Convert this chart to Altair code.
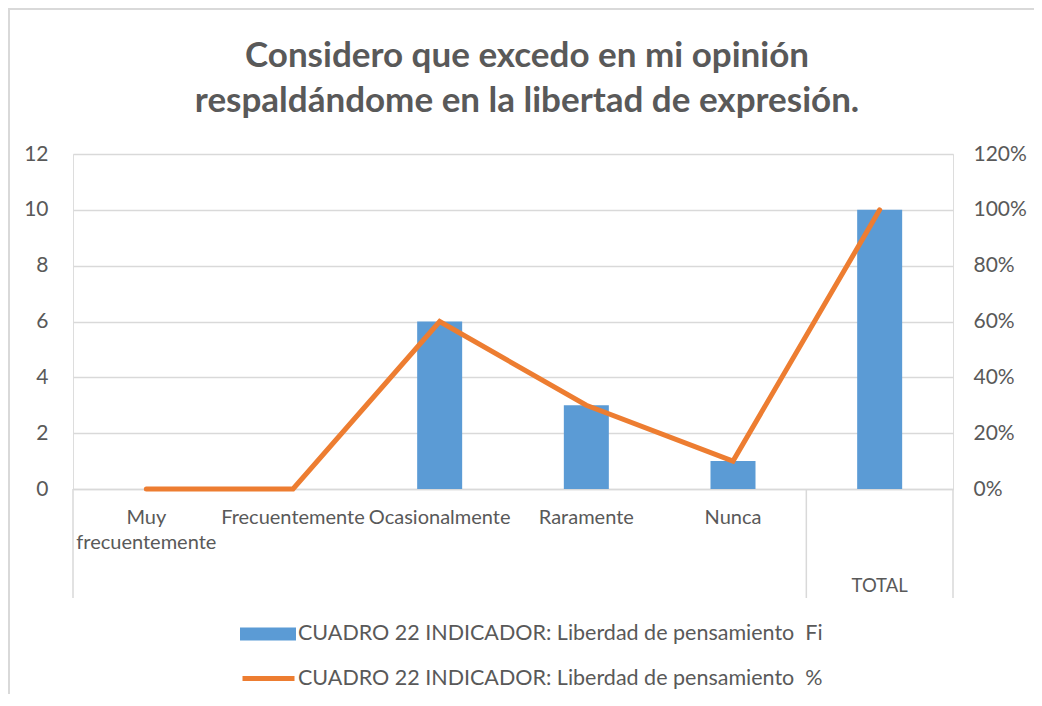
import altair as alt
import pandas as pd

# ---- data ----
categories = ["Muy frecuentemente", "Frecuentemente", "Ocasionalmente", "Raramente", "Nunca", "TOTAL"]
fi_values = [0, 0, 6, 3, 1, 10]
pct_values = [0.0, 0.0, 0.60, 0.30, 0.10, 1.00]
label_lines = {
    "Muy frecuentemente": ["Muy", "frecuentemente"],
}
series_fi = "CUADRO 22 INDICADOR: Liberdad de pensamiento\u00a0 Fi"
series_pct = "CUADRO 22 INDICADOR: Liberdad de pensamiento\u00a0 %"
title_lines = ["Considero que excedo en mi opinión", "respaldándome en la libertad de expresión."]
left_ticks = [0, 2, 4, 6, 8, 10, 12]
right_ticks = [0, 0.2, 0.4, 0.6, 0.8, 1.0, 1.2]

df = pd.DataFrame({
    "cat": categories,
    "fi": fi_values,
    "pct": pct_values,
    "s_fi": [series_fi] * len(categories),
    "s_pct": [series_pct] * len(categories),
})
sep_start = pd.DataFrame({"cat": [categories[0], categories[-1]]})
sep_end = pd.DataFrame({"cat": [categories[-1]]})

FONT = "Lato"
GREY = "#595959"
LIGHT = "#D9D9D9"
BLUE = "#5B9BD5"
ORANGE = "#ED7D31"

W, H = 880, 335

def js_str(s):
    return "'" + s.replace("'", "\\'") + "'"

expr = "datum.value"
for k, lines in label_lines.items():
    arr = "[" + ",".join(js_str(l) for l in lines) + "]"
    expr = f"datum.value == {js_str(k)} ? {arr} : ({expr})"

x_enc = alt.X(
    "cat:N",
    sort=categories,
    scale=alt.Scale(paddingInner=0, paddingOuter=0),
    axis=alt.Axis(
        title=None,
        labelExpr=expr,
        labelAngle=0,
        labelFont=FONT,
        labelFontSize={"condition": {"test": "datum.value == 'TOTAL'", "value": 18.5}, "value": 20},
        labelColor=GREY,
        labelLineHeight=25,
        labelPadding={"condition": {"test": "datum.value == 'TOTAL'", "value": 87}, "value": 18},
        labelOverlap=False,
        labelLimit=400,
        ticks=False,
        domainColor=LIGHT,
        domainWidth=1.5,
        grid=False,
    ),
)

bars = alt.Chart(df).mark_bar(size=45).encode(
    x=x_enc,
    y=alt.Y(
        "fi:Q",
        scale=alt.Scale(domain=[0, 12], nice=False),
        axis=alt.Axis(
            title=None, values=left_ticks, grid=True, gridColor=LIGHT, gridWidth=1.5,
            domain=False, ticks=False, labelFont=FONT, labelFontSize=21, labelColor=GREY,
            labelPadding=25,
        ),
    ),
    fill=alt.Fill(
        "s_fi:N",
        scale=alt.Scale(range=[BLUE]),
        legend=alt.Legend(
            title=None, orient="none", legendX=167, legendY=452, padding=0,
            symbolType="M-1,-0.23H1V0.23H-1Z", symbolSize=3136, symbolStrokeWidth=0,
            labelFont=FONT, labelFontSize=21.5, labelColor=GREY, labelOffset=2, labelLimit=800,
        ),
    ),
)

line = alt.Chart(df).mark_line(strokeWidth=5, strokeCap="round", strokeJoin="miter").encode(
    x=alt.X("cat:N", sort=categories),
    y=alt.Y(
        "pct:Q",
        scale=alt.Scale(domain=[0, 1.2], nice=False),
        axis=alt.Axis(
            title=None, orient="right", values=right_ticks, format=".0%", grid=False,
            domain=False, ticks=False, labelFont=FONT, labelFontSize=21, labelColor=GREY,
            labelPadding=20,
        ),
    ),
    stroke=alt.Stroke(
        "s_pct:N",
        scale=alt.Scale(range=[ORANGE]),
        legend=alt.Legend(
            title=None, orient="none", legendX=167, legendY=496, padding=0,
            symbolType="stroke", symbolSize=2704, symbolStrokeWidth=5,
            labelFont=FONT, labelFontSize=21.5, labelColor=GREY, labelOffset=1, labelLimit=800,
        ),
    ),
)

rule_start = alt.Chart(sep_start).mark_rule(color=LIGHT, strokeWidth=1.5).encode(
    x=alt.X("cat:N", sort=categories, bandPosition=0),
    y=alt.value(H),
    y2=alt.value(H + 109),
)
rule_end = alt.Chart(sep_end).mark_rule(color=LIGHT, strokeWidth=1.5).encode(
    x=alt.X("cat:N", sort=categories, bandPosition=1),
    y=alt.value(H),
    y2=alt.value(H + 109),
)

border = alt.Chart(df.head(1)).mark_rect(fill=None, stroke=LIGHT, strokeWidth=2).encode(
    x=alt.value(-64), x2=alt.value(W + 100), y=alt.value(-145), y2=alt.value(H + 300)
)

chart = alt.layer(border, bars, line, rule_start, rule_end).resolve_scale(
    y="independent", fill="independent", stroke="independent"
).properties(
    width=W,
    height=H,
    padding={"left": 65, "top": 146, "right": 81, "bottom": 205},
    autosize=alt.AutoSizeParams(type="none"),
    title=alt.Title(
        title_lines, anchor="middle", frame="group", dx=14, offset=-111,
        font=FONT, fontSize=35, fontWeight="bold", color=GREY, lineHeight=45,
    ),
).configure_view(stroke=None).configure(background="white")

chart.save("out.html", embed_options={"renderer": "svg", "actions": False})
